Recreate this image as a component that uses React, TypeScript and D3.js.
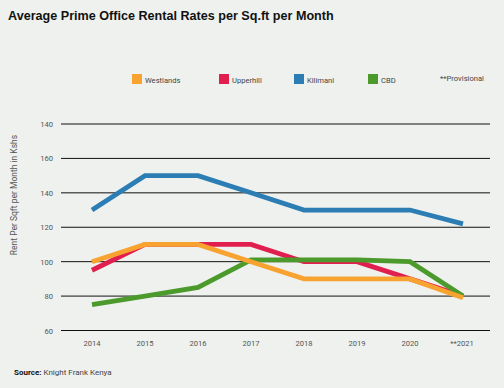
import React from "react";
import * as d3 from "d3";

const width = 504;
const height = 388;

const years = ["2014", "2015", "2016", "2017", "2018", "2019", "2020", "**2021"];
const yTicks = [60, 80, 100, 120, 140, 160, 180];
// labels as printed on the original chart
const yTickLabels = ["60", "80", "100", "120", "140", "160", "140"];

const westlands = [100, 110, 110, 100, 90, 90, 90, 79];
const upperhill = [95, 110, 110, 110, 100, 100, 90, 80];
const kilimani = [130, 150, 150, 140, 130, 130, 130, 122];
const cbd = [75, 80, 85, 101, 101, 101, 100, 80];

const seriesNames = ["Westlands", "Upperhill", "Kilimani", "CBD"];
const seriesColors = ["#f8a330", "#e11f4f", "#2b7db4", "#4b9a2b"];

const x = d3.scalePoint<string>().domain(years).range([92, 463]);
const y = d3.scaleLinear().domain([60, 180]).range([330.5, 124]);

const line = d3
  .line<number>()
  .x((d, i) => x(years[i]) as number)
  .y(d => y(d))
  .curve(d3.curveLinear);

// draw order matters for overlaps
const drawOrder = [
  { values: kilimani, color: seriesColors[2] },
  { values: upperhill, color: seriesColors[1] },
  { values: cbd, color: seriesColors[3] },
  { values: westlands, color: seriesColors[0] }
];

const legendX = [132, 219, 294, 368];

export default function App() {
  const font = "Roboto, 'Liberation Sans', sans-serif";
  return (
    <svg
      width={width}
      height={height}
      style={{ display: "block", position: "absolute", left: 0, top: 0 }}
    >
      <rect width={width} height={height} fill="#eef1ee" />
      <text
        x={8}
        y={20}
        fontFamily="'Liberation Sans', Arial, sans-serif"
        fontWeight="bold"
        fontSize={12.6}
        fill="#111"
      >
        Average Prime Office Rental Rates per Sq.ft per Month
      </text>

      {/* legend */}
      {seriesNames.map((name, i) => (
        <g key={name} transform={`translate(${legendX[i]},74)`}>
          <rect width={10} height={10} fill={seriesColors[i]} />
          <text x={13} y={8.5} fontFamily={font} fontSize={7.6} fill="#444">
            {name}
          </text>
        </g>
      ))}
      <text x={440} y={81} fontFamily={font} fontSize={7.6} fill="#444">
        **Provisional
      </text>

      {/* gridlines */}
      {yTicks.map((t, i) => (
        <g key={t}>
          <line x1={61} x2={490} y1={y(t)} y2={y(t)} stroke="#111" strokeWidth={1} />
          <text
            x={53}
            y={y(t) + 3}
            textAnchor="end"
            fontFamily={font}
            fontSize={7.6}
            fill="#555"
          >
            {yTickLabels[i]}
          </text>
        </g>
      ))}

      {/* x labels */}
      {years.map(yr => (
        <text
          key={yr}
          x={(x(yr) as number) + (yr.startsWith("**") ? -1 : 0)}
          y={346}
          textAnchor="middle"
          fontFamily={font}
          fontSize={7.6}
          fill="#555"
        >
          {yr}
        </text>
      ))}

      <text
        transform="translate(17,195) rotate(-90)"
        textAnchor="middle"
        fontFamily={font}
        fontSize={8.5}
        fill="#555"
      >
        Rent Per Sqft per Month in Kshs
      </text>

      {drawOrder.map((s, i) => (
        <path
          key={i}
          d={line(s.values) || ""}
          fill="none"
          stroke={s.color}
          strokeWidth={4.8}
          strokeLinejoin="miter"
        />
      ))}

      <text x={14} y={375} fontFamily={font} fontSize={8} fill="#444">
        <tspan fontWeight="bold" fill="#111">Source:</tspan> Knight Frank Kenya
      </text>
    </svg>
  );
}
